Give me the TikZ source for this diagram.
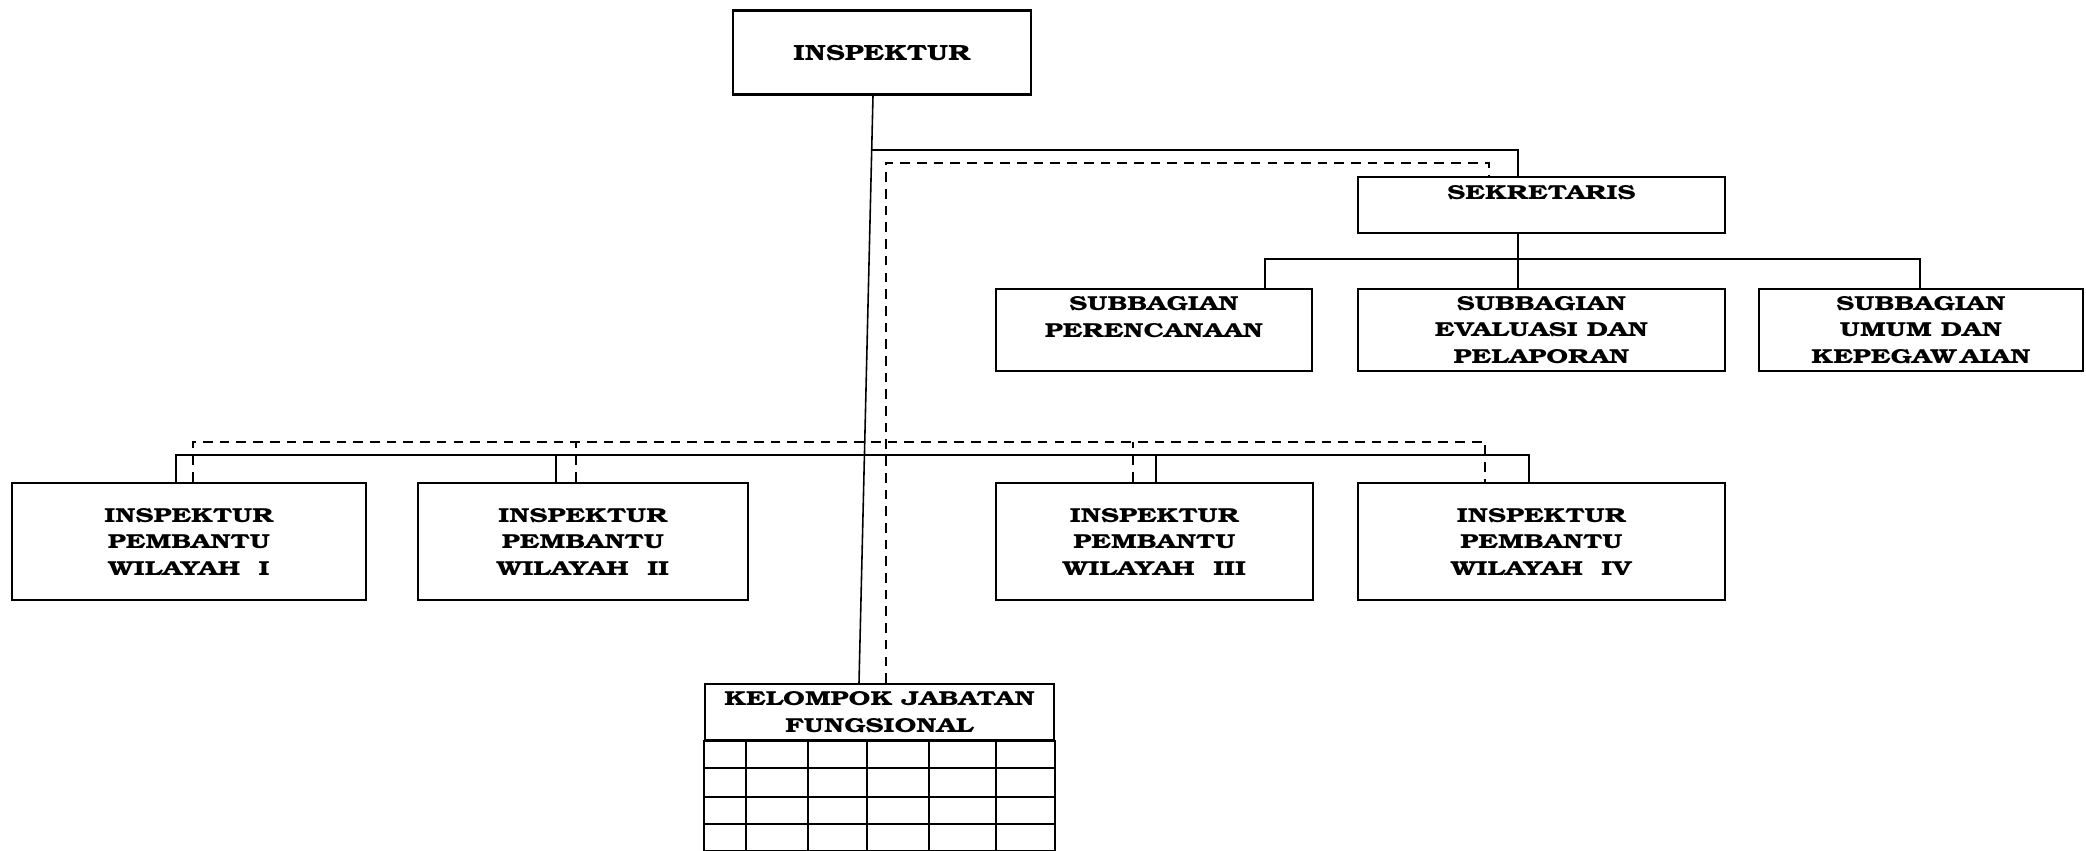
\documentclass[tikz,border=0pt]{standalone}
\usepackage[T1]{fontenc}
\usepackage{bookman}
\usepackage{graphicx}
\usepackage{tikz}
\usetikzlibrary{calc}
\newcommand{\lebar}[1]{\scalebox{1.35}[1]{#1}}
\newcommand{\ipw}[1]{\lebar{INSPEKTUR}\\\lebar{PEMBANTU}\\\lebar{WILAYAH\ \ #1}}

\begin{document}
\begin{tikzpicture}[x=0.2mm,y=-0.2mm,
  box/.style={draw,line width=1.3pt,align=center,inner sep=0pt,
    font=\fontsize{11.5}{15}\selectfont\bfseries},
  conn/.style={line width=0.9pt},
  dashline/.style={line width=0.9pt,dash pattern=on 5.5pt off 4pt}]
  \useasboundingbox (0,0) rectangle (2086,851);
  % kotak
  \node[box,minimum width=59.6mm,minimum height=16.8mm,font=\fontsize{12.5}{15}\selectfont\bfseries] (insp) at (882,52.5) {\scalebox{1.3}[1]{INSPEKTUR}};
  \node[box,minimum width=73.4mm,minimum height=11.2mm] (sek) at (1541.5,205) {\lebar{SEKRETARIS}\\~};
  \node[box,minimum width=63.2mm,minimum height=16.4mm] (per) at (1154,330) {\lebar{SUBBAGIAN}\\\lebar{PERENCANAAN}\\~};
  \node[box,minimum width=73.4mm,minimum height=16.4mm] (eva) at (1541.5,330) {\lebar{SUBBAGIAN}\\\lebar{EVALUASI DAN}\\\lebar{PELAPORAN}};
  \node[box,minimum width=64.8mm,minimum height=16.4mm] (umum) at (1921,330) {\lebar{SUBBAGIAN}\\\lebar{UMUM DAN}\\\lebar{KEPEGAW\kern1.5pt AIAN}};
  \node[box,minimum width=70.8mm,minimum height=23.4mm] (w1) at (189,541.5) {\ipw{I}};
  \node[box,minimum width=66mm,minimum height=23.4mm] (w2) at (583,541.5) {\ipw{II}};
  \node[box,minimum width=63.4mm,minimum height=23.4mm] (w3) at (1154.5,541.5) {\ipw{III}};
  \node[box,minimum width=73.4mm,minimum height=23.4mm] (w4) at (1541.5,541.5) {\ipw{IV}};
  \node[box,minimum width=69.8mm,minimum height=11.2mm] (kjf) at (879.5,712) {\lebar{KELOMPOK JABATAN}\\\lebar{FUNGSIONAL}};
  % tabel jabatan fungsional
  \draw[line width=1.3pt] (kjf.south west) rectangle ($(kjf.south east)+(0,110)$);
  \foreach \r in {27,56,83} \draw[line width=1.3pt] ($(kjf.south west)+(0,\r)$) -- ($(kjf.south east)+(0,\r)$);
  \foreach \c in {42,104,163,225,292} \draw[line width=1.3pt] ($(kjf.south west)+(\c,0)$) -- ($(kjf.south west)+(\c,110)$);
  % garis komando
  \coordinate (t1) at ($(insp.south)+(-9,0)$);
  \coordinate (t2) at ($(kjf.north)+(-20.5,0)$);
  \draw[conn] (t1) -- (t2);
  \coordinate (j1) at ($(t1)!0.0925!(t2)$);
  \draw[conn] (j1) -| ($(sek.north)+(-23.5,0)$);
  \coordinate (sb) at ($(sek.south)+(-23.5,25)$);
  \draw[conn] ($(sek.south)+(-23.5,0)$) -- ($(eva.north)+(-23.5,0)$);
  \draw[conn] (sb) -| ($(per.north)+(111,0)$);
  \draw[conn] (sb) -| ($(umum.north)+(-1,0)$);
  \draw[conn] ($(w1.north)+(-13,0)$) |- ($(w4.north)+(-12.5,-27)$) -- ($(w4.north)+(-12.5,0)$);
  \draw[conn] ($(w2.north)+(-27,0)$) -- ++(0,-27);
  \draw[conn] ($(w3.north)+(1.5,0)$) -- ++(0,-27);
  % garis koordinasi
  \draw[dashline] ($(kjf.north)+(6.5,0)$) |- ($(sek.north)+(-52.5,-13)$) -- ($(sek.north)+(-52.5,0)$);
  \draw[dashline] ($(w1.north)+(4,0)$) |- ($(w4.north)+(-56.5,-40)$) -- ($(w4.north)+(-56.5,0)$);
  \draw[dashline] ($(w2.north)+(-7,0)$) -- ++(0,-40);
  \draw[dashline] ($(w3.north)+(-21.5,0)$) -- ++(0,-40);
\end{tikzpicture}
\end{document}
